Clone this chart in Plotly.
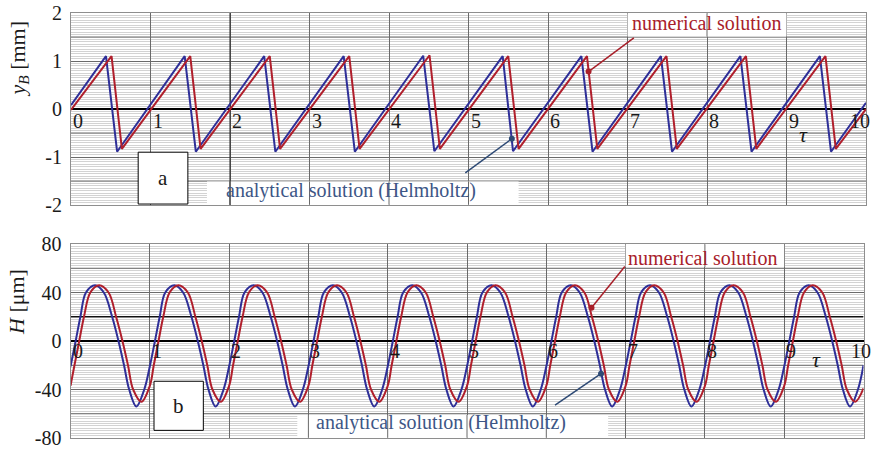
import plotly.graph_objects as go

# ---------------- data ----------------
# panel a : y_B [mm] versus tau  (sawtooth, vertices)
ya_blue_x = [0.00, 0.44, 0.58, 1.43, 1.57, 2.43, 2.57, 3.43, 3.57, 4.43, 4.57,
             5.43, 5.56, 6.42, 6.56, 7.42, 7.56, 8.42, 8.56, 9.42, 9.56, 10.00]
ya_blue_y = [0.08, 1.10, -0.89, 1.10, -0.89, 1.10, -0.89, 1.10, -0.89, 1.11, -0.88,
             1.10, -0.88, 1.10, -0.89, 1.10, -0.89, 1.10, -0.89, 1.10, -0.89, 0.13]
ya_red_x = [0.00, 0.51, 0.64, 1.50, 1.63, 2.50, 2.63, 3.50, 3.63, 4.51, 4.64,
            5.50, 5.63, 6.49, 6.62, 7.49, 7.62, 8.49, 8.62, 9.49, 9.62, 10.00]
ya_red_y = [-0.02, 1.10, -0.83, 1.10, -0.83, 1.10, -0.83, 1.10, -0.83, 1.12, -0.83,
            1.10, -0.83, 1.10, -0.83, 1.10, -0.83, 1.10, -0.83, 1.10, -0.83, 0.00]

# panel b : H [um] versus tau
hb_blue_x = [
    0.000, 0.065, 0.125, 0.195, 0.310, 0.420, 0.525, 0.605, 0.675, 0.740, 0.830, 0.930,
    1.000, 1.065, 1.125, 1.195, 1.310, 1.420, 1.525, 1.605, 1.675, 1.740, 1.830, 1.930,
    2.000, 2.065, 2.125, 2.195, 2.310, 2.420, 2.525, 2.605, 2.675, 2.740, 2.830, 2.930,
    3.000, 3.065, 3.125, 3.195, 3.310, 3.420, 3.525, 3.605, 3.675, 3.740, 3.830, 3.930,
    4.000, 4.065, 4.125, 4.195, 4.310, 4.420, 4.525, 4.605, 4.675, 4.740, 4.830, 4.930,
    5.000, 5.065, 5.125, 5.195, 5.310, 5.420, 5.525, 5.605, 5.675, 5.740, 5.830, 5.930,
    6.000, 6.065, 6.125, 6.195, 6.310, 6.420, 6.525, 6.605, 6.675, 6.740, 6.830, 6.930,
    7.000, 7.065, 7.125, 7.195, 7.310, 7.420, 7.525, 7.605, 7.675, 7.740, 7.830, 7.930,
    8.000, 8.065, 8.125, 8.195, 8.310, 8.420, 8.525, 8.605, 8.675, 8.740, 8.830, 8.930,
    9.000, 9.065, 9.125, 9.195, 9.310, 9.420, 9.525, 9.605, 9.675, 9.740, 9.830, 9.930,
    10.000]
hb_blue_y = [
    -21, 0, 20, 40, 46, 40, 20, 0, -20, -40, -54, -40,
    -21, 0, 20, 40, 46, 40, 20, 0, -20, -40, -54, -40,
    -21, 0, 20, 40, 46, 40, 20, 0, -20, -40, -54, -40,
    -21, 0, 20, 40, 46, 40, 20, 0, -20, -40, -54, -40,
    -21, 0, 20, 40, 46, 40, 20, 0, -20, -40, -54, -40,
    -21, 0, 20, 40, 46, 40, 20, 0, -20, -40, -54, -40,
    -21, 0, 20, 40, 46, 40, 20, 0, -20, -40, -54, -40,
    -21, 0, 20, 40, 46, 40, 20, 0, -20, -40, -54, -40,
    -21, 0, 20, 40, 46, 40, 20, 0, -20, -40, -54, -40,
    -21, 0, 20, 40, 46, 40, 20, 0, -20, -40, -54, -40,
    -20]
hb_red_x = [
    0.000, 0.050, 0.110, 0.170, 0.250, 0.360, 0.480, 0.575, 0.655, 0.725, 0.790, 0.895,
    1.000, 1.050, 1.110, 1.170, 1.250, 1.360, 1.480, 1.575, 1.655, 1.725, 1.790, 1.895,
    2.000, 2.050, 2.110, 2.170, 2.250, 2.360, 2.480, 2.575, 2.655, 2.725, 2.790, 2.895,
    3.000, 3.050, 3.110, 3.170, 3.250, 3.360, 3.480, 3.575, 3.655, 3.725, 3.790, 3.895,
    4.000, 4.050, 4.110, 4.170, 4.250, 4.360, 4.480, 4.575, 4.655, 4.725, 4.790, 4.895,
    5.000, 5.050, 5.110, 5.170, 5.250, 5.360, 5.480, 5.575, 5.655, 5.725, 5.790, 5.895,
    6.000, 6.050, 6.110, 6.170, 6.250, 6.360, 6.480, 6.575, 6.655, 6.725, 6.790, 6.895,
    7.000, 7.050, 7.110, 7.170, 7.250, 7.360, 7.480, 7.575, 7.655, 7.725, 7.790, 7.895,
    8.000, 8.050, 8.110, 8.170, 8.250, 8.360, 8.480, 8.575, 8.655, 8.725, 8.790, 8.895,
    9.000, 9.050, 9.110, 9.170, 9.250, 9.360, 9.480, 9.575, 9.655, 9.725, 9.790, 9.895,
    10.000]
hb_red_y = [
    -37, -20, 0, 20, 40, 46, 40, 20, 0, -20, -40, -50,
    -37, -20, 0, 20, 40, 46, 40, 20, 0, -20, -40, -50,
    -37, -20, 0, 20, 40, 46, 40, 20, 0, -20, -40, -50,
    -37, -20, 0, 20, 40, 46, 40, 20, 0, -20, -40, -50,
    -37, -20, 0, 20, 40, 46, 40, 20, 0, -20, -40, -50,
    -37, -20, 0, 20, 40, 46, 40, 20, 0, -20, -40, -50,
    -37, -20, 0, 20, 40, 46, 40, 20, 0, -20, -40, -50,
    -37, -20, 0, 20, 40, 46, 40, 20, 0, -20, -40, -50,
    -37, -20, 0, 20, 40, 46, 40, 20, 0, -20, -40, -50,
    -37, -20, 0, 20, 40, 46, 40, 20, 0, -20, -40, -50,
    -39]

x_ticks = [0, 1, 2, 3, 4, 5, 6, 7, 8, 9, 10]
ya_ticks = [-2, -1, 0, 1, 2]
ya_ticktext = ["-2", "-1", "0", "1", "2"]
ya_halfgrid = [-1.5, -0.5, 0.5, 1.5]
hb_ticks = [-80, -40, 0, 40, 80]
hb_ticktext = ["-80", "-40", "0", "40", "80"]
hb_halfgrid = [-60, -20, 60]

# ---------------- style ----------------
BLUE = "#2e2f98"
RED = "#b01f2c"
TXT_RED = "#a8202a"
TXT_BLUE = "#3d5686"
PTR_BLUE = "#2e4a75"
GRID = "#6a6a6a"
MINOR = "#d3d3d3"
FONT = "Liberation Serif"
FS = 20
W, H = 873, 449

fig = go.Figure()
fig.add_trace(go.Scatter(x=ya_blue_x, y=ya_blue_y, mode="lines",
                         line=dict(color=BLUE, width=2), xaxis="x", yaxis="y",
                         hoverinfo="skip", showlegend=False))
fig.add_trace(go.Scatter(x=ya_red_x, y=ya_red_y, mode="lines",
                         line=dict(color=RED, width=2), xaxis="x", yaxis="y",
                         hoverinfo="skip", showlegend=False))
fig.add_trace(go.Scatter(x=hb_blue_x, y=hb_blue_y, mode="lines",
                         line=dict(color=BLUE, width=2, shape="spline", smoothing=1),
                         xaxis="x2", yaxis="y2", hoverinfo="skip", showlegend=False))
fig.add_trace(go.Scatter(x=hb_red_x, y=hb_red_y, mode="lines",
                         line=dict(color=RED, width=2, shape="spline", smoothing=1),
                         xaxis="x2", yaxis="y2", hoverinfo="skip", showlegend=False))

# pointer dots
fig.add_trace(go.Scatter(x=[6.51], y=[0.78], mode="markers", marker=dict(color=TXT_RED, size=6),
                         xaxis="x", yaxis="y", hoverinfo="skip", showlegend=False))
fig.add_trace(go.Scatter(x=[5.545], y=[-0.62], mode="markers", marker=dict(color=PTR_BLUE, size=6),
                         xaxis="x", yaxis="y", hoverinfo="skip", showlegend=False))
fig.add_trace(go.Scatter(x=[6.57], y=[27.5], mode="markers", marker=dict(color=TXT_RED, size=6),
                         xaxis="x2", yaxis="y2", hoverinfo="skip", showlegend=False))
fig.add_trace(go.Scatter(x=[6.69], y=[-27], mode="markers", marker=dict(color=PTR_BLUE, size=6),
                         xaxis="x2", yaxis="y2", hoverinfo="skip", showlegend=False))

common_x = dict(range=[0, 10], tickmode="array", tickvals=x_ticks, showticklabels=False,
                showgrid=True, gridcolor=GRID, gridwidth=1, zeroline=False,
                showline=True, mirror=True, linecolor="#8e8e8e", linewidth=1, ticks="",
                automargin=False)
common_y = dict(tickmode="array", showgrid=True, gridcolor=GRID, gridwidth=1,
                zeroline=True, zerolinecolor="black", zerolinewidth=2,
                showline=True, mirror=True, linecolor="#8e8e8e", linewidth=1, ticks="",
                tickfont=dict(family=FONT, size=FS, color="#1a1a1a"), ticklabelstandoff=4,
                automargin=False)

fig.update_layout(
    width=W, height=H, margin=dict(l=0, r=0, t=0, b=0, autoexpand=False),
    paper_bgcolor="white", plot_bgcolor="white", showlegend=False,
    xaxis=dict(domain=[71 / W, 866 / W], anchor="y", **common_x),
    yaxis=dict(domain=[1 - 205 / H, 1 - 13 / H], anchor="x", range=[-2, 2],
               tickvals=ya_ticks, ticktext=ya_ticktext,
               minor=dict(tickmode="linear", tick0=0, dtick=0.05, showgrid=True,
                          gridcolor=MINOR, gridwidth=1, ticks=""),
               **common_y),
    xaxis2=dict(domain=[70.5 / W, 863.5 / W], anchor="y2", **common_x),
    yaxis2=dict(domain=[1 - 438 / H, 1 - 244 / H], anchor="x2", range=[-80, 80],
                tickvals=hb_ticks, ticktext=hb_ticktext,
                minor=dict(tickmode="linear", tick0=0, dtick=2, showgrid=True,
                           gridcolor=MINOR, gridwidth=1, ticks=""),
                **common_y),
)

shapes = []
# unlabeled major grid levels
for v in ya_halfgrid:
    shapes.append(dict(type="line", xref="x", yref="y", x0=0, x1=10, y0=v, y1=v,
                       line=dict(color=GRID, width=1), layer="between"))
for v in hb_halfgrid:
    shapes.append(dict(type="line", xref="x2", yref="y2", x0=0, x1=10, y0=v, y1=v,
                       line=dict(color=GRID, width=1), layer="between"))

# white areas behind the labels (minor grid absent there)
def blank(xr, yr, x0, x1, y0, y1, vlines):
    shapes.append(dict(type="rect", xref=xr, yref=yr, x0=x0, x1=x1, y0=y0, y1=y1,
                       fillcolor="white", line=dict(width=0), layer="between"))
    for v in vlines:
        shapes.append(dict(type="line", xref=xr, yref=yr, x0=v, x1=v, y0=y0, y1=y1,
                           line=dict(color=GRID, width=1), layer="between"))

blank("x", "y", 1.71, 5.63, -1.995, -1.51, [2, 3, 4, 5])
blank("x", "y", 7.0, 9.0, 1.51, 1.995, [8])
blank("x2", "y2", 2.86, 6.78, -79.8, -61.0, [3, 4, 5, 6])
blank("x2", "y2", 7.0, 9.0, 61.0, 79.8, [8])

# darker x=2 gridline in panel a
shapes.append(dict(type="line", xref="x", yref="y", x0=2, x1=2, y0=-2, y1=2,
                   line=dict(color="#202020", width=1), layer="between"))
# black line at H = 20
shapes.append(dict(type="line", xref="x2", yref="y2", x0=0, x1=10, y0=20, y1=20,
                   line=dict(color="#111111", width=1.6), layer="between"))

# label boxes
shapes.append(dict(type="rect", xref="x", yref="y", x0=0.845, x1=1.47, y0=-1.98, y1=-0.90,
                   fillcolor="white", line=dict(color="black", width=1), layer="above"))
shapes.append(dict(type="rect", xref="x2", yref="y2", x0=1.053, x1=1.675, y0=-73.7, y1=-33.2,
                   fillcolor="white", line=dict(color="black", width=1), layer="above"))

# pointer lines
shapes.append(dict(type="line", xref="x", yref="y", x0=7.08, y0=1.48, x1=6.51, y1=0.78,
                   line=dict(color=TXT_RED, width=1.5), layer="above"))
shapes.append(dict(type="line", xref="x", yref="y", x0=4.96, y0=-1.33, x1=5.545, y1=-0.62,
                   line=dict(color=PTR_BLUE, width=1.5), layer="above"))
shapes.append(dict(type="line", xref="x2", yref="y2", x0=6.99, y0=61.5, x1=6.57, y1=27.5,
                   line=dict(color=TXT_RED, width=1.5), layer="above"))
shapes.append(dict(type="line", xref="x2", yref="y2", x0=6.11, y0=-52.8, x1=6.69, y1=-27,
                   line=dict(color=PTR_BLUE, width=1.5), layer="above"))
fig.update_layout(shapes=shapes)

ann = []
def txt(xr, yr, x, y, t, color="#1a1a1a", size=FS, xanchor="center", **kw):
    ann.append(dict(xref=xr, yref=yr, x=x, y=y, text=t, showarrow=False,
                    font=dict(family=FONT, size=size, color=color),
                    xanchor=xanchor, yanchor="middle", **kw))

# tick labels on the tau axis (inside the plots)
for v in x_ticks[:-1]:
    txt("x", "y", v, -0.26, str(v), xanchor="left")
    txt("x2", "y2", v, -8.2, str(v), xanchor="left")
txt("x", "y", 9.93, -0.26, "10", xanchor="center")
txt("x2", "y2", 9.97, -8.2, "10", xanchor="center")
txt("x", "y", 9.22, -0.53, "<i>τ</i>", size=22)
txt("x2", "y2", 9.41, -15.5, "<i>τ</i>", size=22)

# curve labels
txt("x", "y", 7.99, 1.79, "numerical solution", color=TXT_RED)
txt("x", "y", 3.525, -1.70, "analytical solution (Helmholtz)", color=TXT_BLUE)
txt("x2", "y2", 7.97, 68.8, "numerical solution", color=TXT_RED)
txt("x2", "y2", 4.67, -67, "analytical solution (Helmholtz)", color=TXT_BLUE)

# panel letters
txt("x", "y", 1.157, -1.44, "a", size=21)
txt("x2", "y2", 1.364, -53.5, "b", size=21)

# axis titles
ann.append(dict(xref="paper", yref="paper", x=18.5 / W, y=1 - 59 / H,
                text="<i>y<sub>B</sub></i> [mm]", showarrow=False, textangle=-90,
                font=dict(family=FONT, size=22, color="#1a1a1a"),
                xanchor="center", yanchor="middle"))
ann.append(dict(xref="paper", yref="paper", x=16 / W, y=1 - 302 / H,
                text="<i>H</i> [μm]", showarrow=False, textangle=-90,
                font=dict(family=FONT, size=22, color="#1a1a1a"),
                xanchor="center", yanchor="middle"))
fig.update_layout(annotations=ann)

fig.write_html("out.html", config={"displayModeBar": False},
               post_script="document.body.style.margin='0';document.body.style.overflow='hidden';")
